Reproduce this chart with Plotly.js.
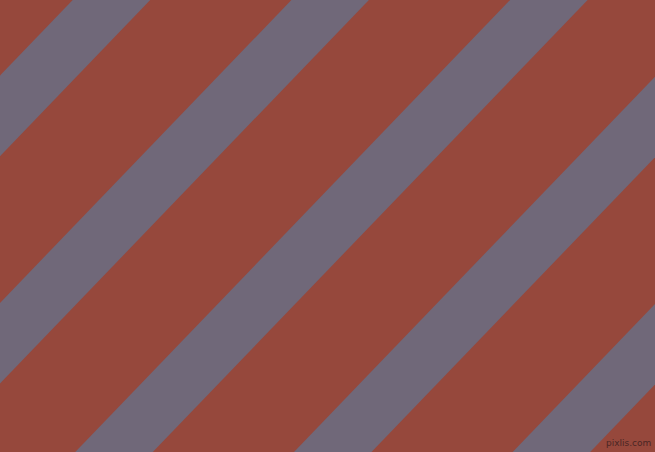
<!DOCTYPE html>
<html>
<head>
<meta charset="utf-8">
<script src="https://cdn.plot.ly/plotly-3.0.1.min.js"></script>
<style>
  html, body { margin: 0; padding: 0; background: #96483c; }
  #chart { width: 655px; height: 452px; }
</style>
</head>
<body>
<div id="chart"></div>
<script>
// stripe left edges where they meet the top border (px)
var stripeTopX = [72.7, 291.4, 510.1, 728.8, 947.5];
var stripeWidth = 77.5;      // horizontal width of a stripe
var stripeLean = 0.962;      // x shift per 1px down
var imgW = 655, imgH = 452;

var bgColor = '#96483c';
var stripeColor = '#706879';

var traces = stripeTopX.map(function (x0) {
    var xb = x0 - stripeLean * imgH;
    return {
        x: [x0, x0 + stripeWidth, xb + stripeWidth, xb, x0],
        y: [0, 0, imgH, imgH, 0],
        type: 'scatter',
        mode: 'lines',
        fill: 'toself',
        fillcolor: stripeColor,
        line: { width: 0, color: stripeColor },
        hoverinfo: 'skip',
        showlegend: false
    };
});

var layout = {
    width: imgW,
    height: imgH,
    margin: { l: 0, r: 0, t: 0, b: 0, pad: 0 },
    paper_bgcolor: bgColor,
    plot_bgcolor: bgColor,
    xaxis: { range: [0, imgW], visible: false, fixedrange: true },
    yaxis: { range: [imgH, 0], visible: false, fixedrange: true },
    annotations: [{
        text: 'pixlis.com',
        xref: 'paper', yref: 'paper',
        x: 0.997, y: 0.005,
        xanchor: 'right', yanchor: 'bottom',
        showarrow: false,
        font: { family: 'DejaVu Sans', size: 9, color: '#4a2624' }
    }]
};

Plotly.newPlot('chart', traces, layout, { staticPlot: true, displayModeBar: false });
</script>
</body>
</html>
